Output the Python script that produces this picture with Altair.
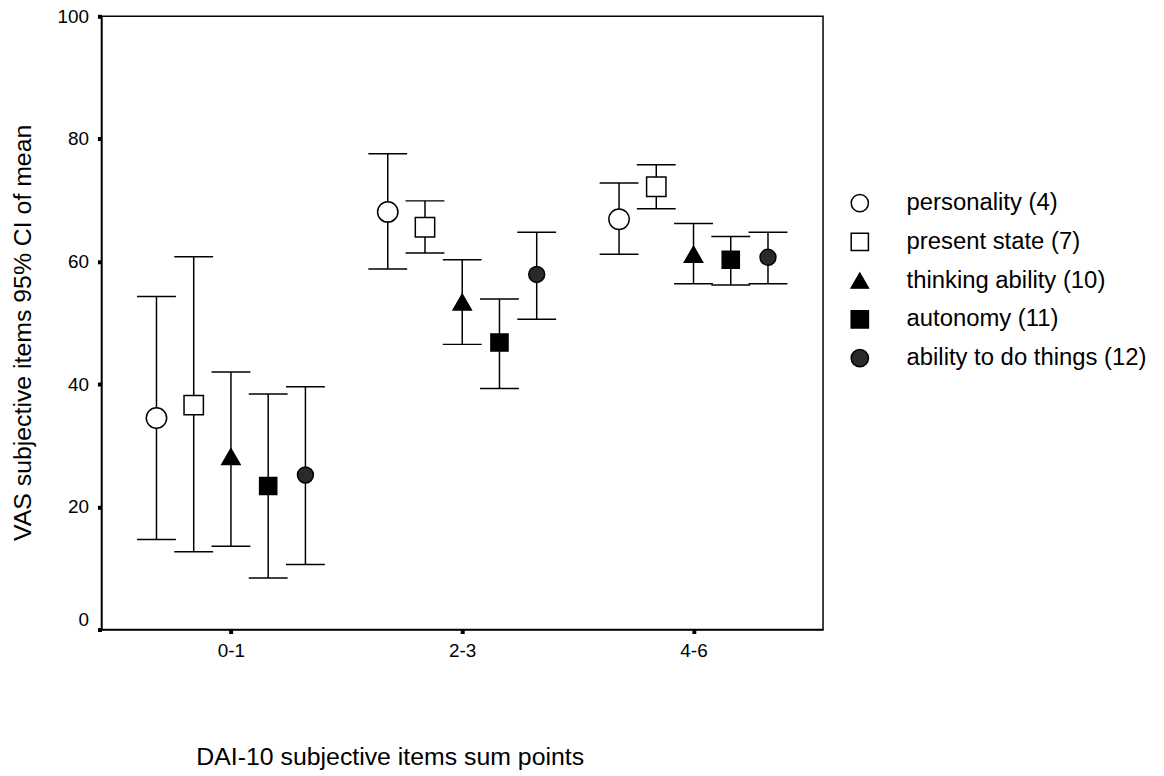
import altair as alt
import pandas as pd

groups = ["0-1", "2-3", "4-6"]
series = ["personality (4)", "present state (7)", "thinking ability (10)",
          "autonomy (11)", "ability to do things (12)"]

personality_mean = [34.5, 68.1, 66.9]
personality_lo = [14.7, 58.8, 61.2]
personality_hi = [54.3, 77.6, 72.8]

present_mean = [36.6, 65.6, 72.2]
present_lo = [12.7, 61.4, 68.6]
present_hi = [60.8, 69.9, 75.8]

thinking_mean = [28.2, 53.4, 61.2]
thinking_lo = [13.6, 46.5, 56.4]
thinking_hi = [42.0, 60.3, 66.2]

autonomy_mean = [23.4, 46.8, 60.3]
autonomy_lo = [8.4, 39.3, 56.2]
autonomy_hi = [38.4, 53.9, 64.1]

ability_mean = [25.2, 57.9, 60.7]
ability_lo = [10.6, 50.6, 56.4]
ability_hi = [39.6, 64.8, 64.8]

all_mean = [personality_mean, present_mean, thinking_mean, autonomy_mean, ability_mean]
all_lo = [personality_lo, present_lo, thinking_lo, autonomy_lo, ability_lo]
all_hi = [personality_hi, present_hi, thinking_hi, autonomy_hi, ability_hi]

rows = []
for si, s in enumerate(series):
    for gi, g in enumerate(groups):
        rows.append({"series": s, "si": si, "gi": gi, "group": g,
                     "mean": all_mean[si][gi], "lo": all_lo[si][gi], "hi": all_hi[si][gi]})
df = pd.DataFrame(rows)

FONT = "Liberation Sans"

xscale = alt.Scale(domain=[-0.56, 2.56], nice=False, zero=False)
yscale = alt.Scale(domain=[0, 100], nice=False)

base = alt.Chart(df).transform_calculate(
    pos="datum.gi + (datum.si - 2) * 0.161",
    capL="datum.gi + (datum.si - 2) * 0.161 - 0.084",
    capR="datum.gi + (datum.si - 2) * 0.161 + 0.084",
    skey="'k' + datum.si",
)

xaxis = alt.Axis(
    values=[0, 1, 2],
    labelExpr="['0-1','2-3','4-6'][datum.value]",
    title="DAI-10 subjective items sum points",
    grid=False, tickSize=4, tickWidth=4, tickColor="black",
    labelPadding=8, labelFontSize=19, labelFont=FONT, labelColor="black",
    domainColor="black", domainWidth=1.5,
    titleFont=FONT, titleFontSize=25, titleFontWeight="normal", titleColor="black",
    titleAnchor="start", titleAlign="left", titleBaseline="middle",
    titleX=95, titleY=128,
)
yaxis = alt.Axis(
    values=[0, 20, 40, 60, 80, 100],
    title="VAS subjective items 95% CI of mean",
    grid=False, tickSize=4, tickWidth=4, tickColor="black",
    labelPadding=9, labelFontSize=19, labelFont=FONT, labelColor="black",
    labelBaseline={"condition": {"test": "datum.value === 0", "value": "bottom"},
                   "value": "middle"},
    domainColor="black", domainWidth=1.5,
    titleFont=FONT, titleFontSize=25, titleFontWeight="normal", titleColor="black",
    titleX=-79, titleY=318, titleBaseline="middle", titleAngle=-90,
)

vrule = base.mark_rule(color="black", strokeWidth=1.5).encode(
    x=alt.X("pos:Q", scale=xscale, axis=xaxis),
    y=alt.Y("lo:Q", scale=yscale, axis=yaxis),
    y2="hi:Q",
)
topcap = base.mark_rule(color="black", strokeWidth=1.5).encode(
    x=alt.X("capL:Q", scale=xscale), x2="capR:Q", y=alt.Y("hi:Q", scale=yscale)
)
botcap = base.mark_rule(color="black", strokeWidth=1.5).encode(
    x=alt.X("capL:Q", scale=xscale), x2="capR:Q", y=alt.Y("lo:Q", scale=yscale)
)

legend = alt.Legend(
    title=None, orient="none", legendX=751, legendY=176,
    labelFont=FONT, labelFontSize=24, labelColor="black", labelLimit=500,
    labelOffset=35, rowPadding=15, symbolSize=300, symbolStrokeWidth=1.5,
    symbolStrokeColor="black", padding=0,
)
points = base.mark_point(strokeWidth=1.5, opacity=1, fillOpacity=1).encode(
    x=alt.X("pos:Q", scale=xscale),
    y=alt.Y("mean:Q", scale=yscale),
    shape=alt.Shape("series:N", scale=alt.Scale(
        domain=series,
        range=["circle", "square", "triangle-up", "square", "circle"]), legend=legend),
    fill=alt.Fill("series:N", scale=alt.Scale(
        domain=series,
        range=["white", "white", "black", "black", "#2a2a2a"]), legend=legend),
    stroke=alt.Stroke("series:N", scale=alt.Scale(
        domain=series,
        range=["black", "black", "black", "black", "black"]), legend=legend),
    size=alt.Size("skey:N", scale=alt.Scale(
        domain=["k0", "k1", "k2", "k3", "k4"], range=[420, 256, 330, 210, 360]),
        legend=None),
)

chart = alt.layer(vrule, topcap, botcap, points).properties(
    width=726, height=617,
    padding={"left": 94, "top": 6, "right": 335, "bottom": 143},
    autosize=alt.AutoSizeParams(type="none"),
    background="white",
).configure_view(stroke="black", strokeWidth=1.5)

chart.save("out.html", embed_options={"renderer": "svg", "actions": False})
